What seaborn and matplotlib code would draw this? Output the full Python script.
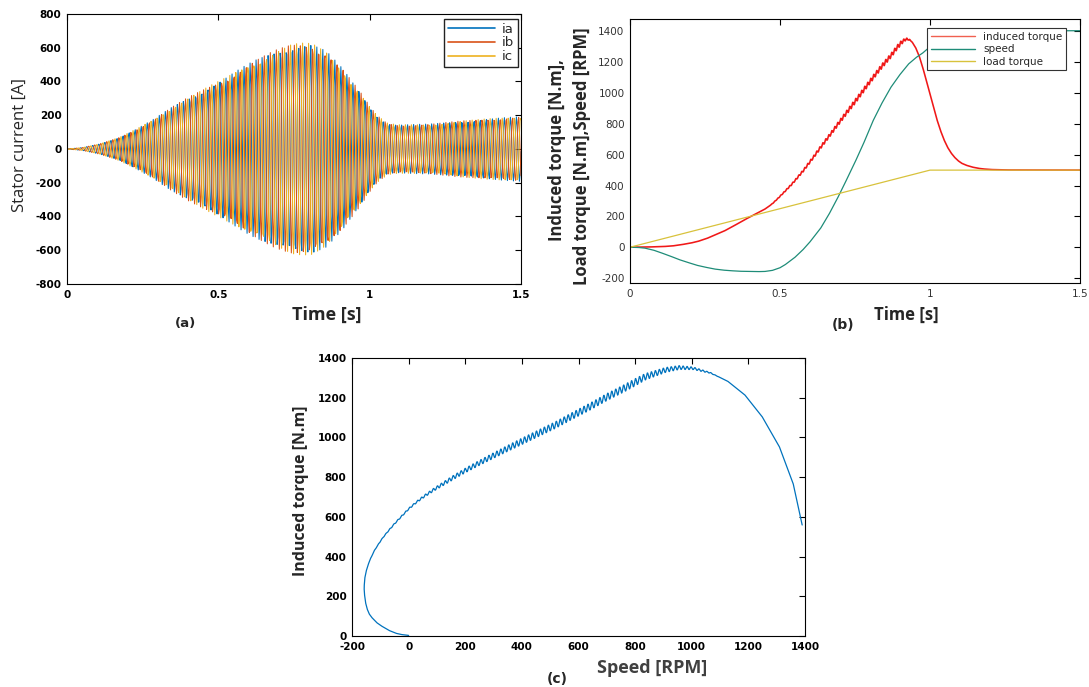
import numpy as np
import pandas as pd
import matplotlib
matplotlib.use("Agg")
import matplotlib.pyplot as plt
from matplotlib.lines import Line2D
import seaborn as sns

# ---------------- (a) stator currents ----------------
# peak amplitude of the phase currents over time [A]
env_time = [0.0, 0.05, 0.106, 0.174, 0.23, 0.2875, 0.344, 0.40, 0.458, 0.515,
            0.57, 0.628, 0.685, 0.742, 0.776, 0.81, 0.856, 0.9125, 0.97, 1.003,
            1.026, 1.06, 1.094, 1.197, 1.31, 1.424, 1.5]
env_amp = [0, 8, 30, 70, 120, 178, 247, 306, 362, 415,
           474, 534, 583, 623, 628, 626, 583, 474, 336, 247,
           198, 152, 144, 148, 168, 184, 192]
supply_freq = 50.0      # Hz
record_rate = 403.4     # samples per second of the logged currents
phase_names = ["ia", "ib", "ic"]
phase_shift_deg = [0, -120, 120]
phase_colors = ["#0072BD", "#D95319", "#EDB120"]

# ---------------- (b) torque / speed vs time ----------------
torque_time = [0, 0.05, 0.108, 0.14, 0.1665, 0.2, 0.225, 0.255, 0.284, 0.314,
               0.342, 0.37, 0.401, 0.425, 0.448, 0.475, 0.5, 0.54, 0.577, 0.606,
               0.636, 0.665, 0.694, 0.723, 0.753, 0.782, 0.811, 0.84, 0.870, 0.89,
               0.905, 0.915, 0.923, 0.932, 0.94, 0.952, 0.964, 0.976, 0.987, 1.0,
               1.011, 1.022, 1.034, 1.046, 1.058, 1.07, 1.081, 1.093, 1.105, 1.12,
               1.14, 1.16, 1.175, 1.2, 1.25, 1.5]
torque_val = [0, 1, 4, 8, 15, 26, 37, 56, 80, 105,
              134, 165, 198, 222, 245, 283, 330, 410, 495, 570,
              650, 725, 801, 876, 952, 1028, 1103, 1175, 1243, 1295,
              1328, 1344, 1350, 1345, 1332, 1295, 1240, 1165, 1085, 995,
              915, 835, 762, 700, 650, 612, 585, 562, 545, 532,
              520, 512, 508, 504, 501, 500]
# torque ripple amplitude [N.m] and its frequency
ripple_time = [0.0, 0.45, 0.6, 0.75, 0.9, 0.94, 1.5]
ripple_amp = [0, 0, 8, 14, 14, 0, 0]
ripple_freq = 100.0

speed_time = [0, 0.03, 0.05, 0.08, 0.108, 0.14, 0.1665, 0.2, 0.225, 0.255,
              0.284, 0.314, 0.342, 0.37, 0.40, 0.43, 0.45, 0.475, 0.5, 0.518,
              0.55, 0.577, 0.6, 0.636, 0.665, 0.694, 0.72, 0.753, 0.78, 0.811,
              0.84, 0.870, 0.9, 0.929, 0.955, 0.976, 1.0, 1.03, 1.06, 1.1,
              1.15, 1.2, 1.3, 1.5]
speed_val = [0, -2, -6, -20, -39, -62, -82, -103, -118, -131,
             -142, -149, -153, -156, -157, -158, -157, -150, -133, -112,
             -65, -15, 35, 125, 220, 327, 430, 564, 680, 823,
             935, 1038, 1120, 1189, 1232, 1260, 1300, 1340, 1368, 1388,
             1398, 1401, 1403, 1404]

load_time = [0, 1.0, 1.5]
load_val = [0, 500, 500]

# ---------------- (c) torque-speed characteristic ----------------
curve_speed = [0, -20, -41, -65, -90, -110, -127, -138, -145, -151,
               -155, -157, -157, -155, -150, -143, -133, -121, -107, -90,
               -70, -50, -25, 0, 30, 56, 90, 117, 160, 202,
               250, 299, 350, 397, 460, 518, 580, 640, 700, 762,
               835, 908, 956, 1005, 1066, 1127, 1187, 1248, 1309, 1358,
               1390]
curve_torque = [3, 6, 12, 25, 45, 64, 88, 108, 130, 160,
                197, 230, 250, 290, 325, 360, 395, 430, 462, 497,
                532, 565, 603, 640, 677, 705, 738, 762, 800, 835,
                872, 908, 945, 978, 1022, 1062, 1110, 1155, 1203, 1248,
                1305, 1340, 1352, 1348, 1325, 1283, 1215, 1106, 955, 769,
                559]
# ripple along the upper branch: amplitude [N.m] by speed, one period per 14 rpm
ripple_c_speed = [-200, 20, 150, 400, 800, 950, 1100, 1400]
ripple_c_amp = [0, 4, 10, 16, 18, 10, 0, 0]
ripple_c_period = 14.0

W, H = 1089, 687

sns.set_theme(style="white")
plt.rcParams["font.family"] = ["DejaVu Sans"]
plt.rcParams["axes.linewidth"] = 0.8
plt.rcParams["axes.unicode_minus"] = False

fig = plt.figure(figsize=(W / 100, H / 100), dpi=100)


def px_axes(left, top, right, bottom):
    return fig.add_axes([left / W, 1 - bottom / H, (right - left) / W, (bottom - top) / H])


def style_ticks(ax, size, weight, color="black"):
    ax.tick_params(direction="in", length=4, width=0.8, top=True, right=True,
                   labelsize=size, colors="black", labelcolor=color, pad=4)
    for lab in ax.get_xticklabels() + ax.get_yticklabels():
        lab.set_fontweight(weight)
    for sp in ax.spines.values():
        sp.set_color("black")
        sp.set_linewidth(0.8)


def fig_text(x, y, s, **kw):
    fig.text(x / W, 1 - y / H, s, ha="center", va="center", **kw)


# ---- (a)
ax_a = px_axes(67, 14, 521, 284)
t = np.arange(0, 1.5 + 1e-9, 1 / record_rate)
env = np.interp(t, env_time, env_amp)
frames = []
for name, shift in zip(phase_names, phase_shift_deg):
    frames.append(pd.DataFrame({
        "t": t,
        "i": env * np.sin(2 * np.pi * supply_freq * t + np.deg2rad(shift)),
        "phase": name,
    }))
df_a = pd.concat(frames, ignore_index=True)
sns.lineplot(data=df_a, x="t", y="i", hue="phase", hue_order=phase_names,
             palette=dict(zip(phase_names, phase_colors)), linewidth=0.75,
             estimator=None, sort=False, ax=ax_a, legend=False)
ax_a.set_xlim(0, 1.5)
ax_a.set_ylim(-800, 800)
ax_a.set_xticks([0, 0.5, 1, 1.5])
ax_a.set_xticklabels(["0", "0.5", "1", "1.5"])
ax_a.set_yticks(np.arange(-800, 801, 200))
ax_a.set_xlabel("")
ax_a.set_ylabel("")
style_ticks(ax_a, 7.5, "bold")
leg_a = ax_a.legend([Line2D([], [], color=c, lw=1.2) for c in phase_colors], phase_names,
                    loc="upper right", bbox_to_anchor=(0.993, 0.982), borderaxespad=0,
                    fontsize=9.5, handlelength=3.6, handletextpad=0.5, borderpad=0.3,
                    labelspacing=0.05, fancybox=False, framealpha=1, edgecolor="#222222")
leg_a.get_frame().set_linewidth(1.0)
fig_text(20, 145, "Stator current [A]", rotation=90, fontsize=12, family="Open Sans")
fig_text(327, 315, "Time [s]", fontsize=13, fontweight="bold", family="Open Sans")
fig_text(186, 324, "(a)", fontsize=9.5, fontweight="bold")

# ---- (b)
ax_b = px_axes(630, 19, 1080, 283)
tb = np.linspace(0, 1.5, 6001)
torque_dense = (np.interp(tb, torque_time, torque_val)
                + np.interp(tb, ripple_time, ripple_amp) * np.sin(2 * np.pi * ripple_freq * tb))
df_b = pd.concat([
    pd.DataFrame({"t": tb, "v": torque_dense, "series": "induced torque"}),
    pd.DataFrame({"t": speed_time, "v": speed_val, "series": "speed"}),
    pd.DataFrame({"t": load_time, "v": load_val, "series": "load torque"}),
], ignore_index=True)
b_names = ["induced torque", "speed", "load torque"]
b_colors = ["#F01818", "#1E8C78", "#D8C23C"]
sns.lineplot(data=df_b, x="t", y="v", hue="series", hue_order=b_names,
             palette=dict(zip(b_names, b_colors)), linewidth=0.9,
             estimator=None, sort=False, ax=ax_b, legend=False)
ax_b.lines[0].set_linewidth(1.15)
ax_b.set_xlim(0, 1.5)
ax_b.set_ylim(-232, 1480)
ax_b.set_xticks([0, 0.5, 1, 1.5])
ax_b.set_xticklabels(["0", "0.5", "1", "1.5"])
ax_b.set_yticks(np.arange(-200, 1401, 200))
ax_b.set_xlabel("")
ax_b.set_ylabel("")
style_ticks(ax_b, 7.5, "normal", color="#333333")
leg_b = ax_b.legend([Line2D([], [], color=c, lw=1.0) for c in ["#F06050", "#1E8C78", "#D8C23C"]],
                    b_names, loc="upper right", bbox_to_anchor=(0.969, 0.966), borderaxespad=0,
                    fontsize=7.5, handlelength=4.2, handletextpad=0.8, borderpad=0.35,
                    labelspacing=0.25, fancybox=False, framealpha=1, edgecolor="#333333")
leg_b.get_frame().set_linewidth(0.8)
fig_text(557, 150, "Induced torque [N.m],", rotation=90, fontsize=12, fontweight="bold", family="Open Sans")
fig_text(582, 156, "Load torque [N.m],Speed [RPM]", rotation=90, fontsize=12, fontweight="bold", family="Open Sans")
fig_text(906, 315, "Time [s]", fontsize=12, fontweight="bold", family="Open Sans")
fig_text(843, 325, "(b)", fontsize=10, fontweight="bold")

# ---- (c)
ax_c = px_axes(352, 358, 805, 636)
u_key = np.arange(len(curve_speed))
u = np.linspace(0, len(curve_speed) - 1, 6000)
sp_dense = np.interp(u, u_key, curve_speed)
tq_dense = np.interp(u, u_key, curve_torque)
upper = u >= 12
tq_dense = tq_dense + upper * np.interp(sp_dense, ripple_c_speed, ripple_c_amp) * \
    np.sin(2 * np.pi * sp_dense / ripple_c_period)
df_c = pd.DataFrame({"speed": sp_dense, "torque": tq_dense})
sns.lineplot(data=df_c, x="speed", y="torque", color="#0072BD", linewidth=0.9,
             estimator=None, sort=False, ax=ax_c)
ax_c.set_xlim(-200, 1400)
ax_c.set_ylim(0, 1400)
ax_c.set_xticks(np.arange(-200, 1401, 200))
ax_c.set_yticks(np.arange(0, 1401, 200))
ax_c.set_xlabel("")
ax_c.set_ylabel("")
style_ticks(ax_c, 7.5, "bold")
fig_text(301, 491, "Induced torque [N.m]", rotation=90, fontsize=11.5, fontweight="bold", family="Open Sans")
fig_text(652, 668, "Speed [RPM]", fontsize=13, fontweight="bold", family="Open Sans", color="#404040")
fig_text(557, 679, "(c)", fontsize=10, fontweight="bold")

fig.savefig("out.png", dpi=100)
